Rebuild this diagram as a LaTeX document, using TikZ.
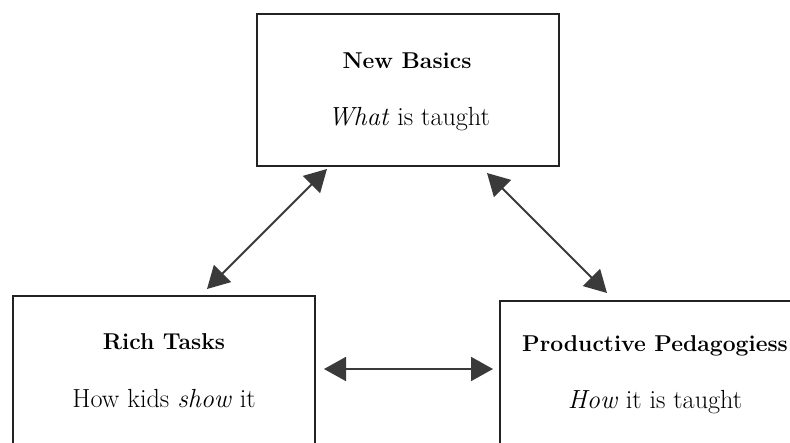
\documentclass[tikz,border=0pt]{standalone}
\usepackage{fontspec}
\usetikzlibrary{arrows.meta}
\definecolor{arrowgray}{HTML}{3A3A3A}
\definecolor{boxline}{HTML}{222222}
\begin{document}
\begin{tikzpicture}[x=1pt,y=-1pt,
  box/.style={draw=boxline, line width=1.5pt, rectangle, inner sep=0pt},
  titletext/.style={anchor=base, font=\fontsize{22.9}{26}\selectfont\bfseries, text=black},
  subtext/.style={anchor=base, font=\fontsize{26.2}{30}\selectfont, text=black},
  dbl/.style={draw=arrowgray, line width=1.8pt,
    {Triangle[length=22pt,width=24pt,fill=arrowgray]}-{Triangle[length=22pt,width=24pt,fill=arrowgray]}}
]
\useasboundingbox (0,0) rectangle (790,443);
\clip (0,0) rectangle (790,443);
\fill[white] (0,0) rectangle (790,443);

% boxes
\node[box, minimum width=302pt, minimum height=152pt] (basics) at (408,90) {};
\node[box, minimum width=302pt, minimum height=164pt] (rich) at (164,378) {};
\node[box, minimum width=310pt, minimum height=164pt] (prod) at (655,383) {};

% texts
\node[titletext] (basicsT) at (407,69) {New Basics};
\node[subtext] (basicsS) at (409,126) {\textit{What} is taught};
\node[titletext] (richT) at (164,350) {Rich Tasks};
\node[subtext] (richS) at (164,408) {How kids \textit{show} it};
\node[titletext] (prodT) at (655,352) {Productive Pedagogiess};
\node[subtext] (prodS) at (655,409) {\textit{How} it is taught};

% arrow end points
\coordinate (a1top) at (327,169);
\coordinate (a1bot) at (207,289);
\coordinate (a2top) at (487,173);
\coordinate (a2bot) at (607,293);
\coordinate (a3l) at (324,369);
\coordinate (a3r) at (493,369);

\draw[dbl] (a1bot) -- (a1top);
\draw[dbl] (a2top) -- (a2bot);
\draw[dbl] (a3l) -- (a3r);
\end{tikzpicture}
\end{document}
